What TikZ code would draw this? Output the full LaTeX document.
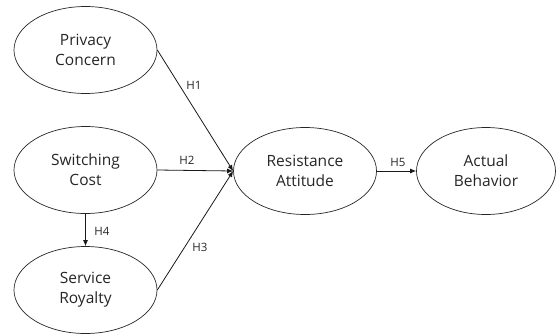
\documentclass[tikz,border=0pt]{standalone}
\usepackage{fontspec}
\setmainfont{Open Sans}
\usetikzlibrary{shapes.geometric,arrows.meta}
\begin{document}
\begin{tikzpicture}[x=1pt,y=-1pt,
  latent/.style={draw=black!85,line width=0.7pt,ellipse,minimum width=143pt,minimum height=87pt,inner sep=0pt,align=center,font=\fontsize{15.5}{20}\selectfont,text=black!85},
  link/.style={draw=black!90,line width=0.8pt,-{Latex[length=6pt,width=5pt]}},
  hlab/.style={font=\fontsize{11.5}{13}\selectfont,text=black!85,inner sep=0pt}]
\useasboundingbox (0,0) rectangle (556,335);
\node[latent] (pc) at (85.5,50) {Privacy\\Concern};
\node[latent] (sc) at (85.5,170) {Switching\\Cost};
\node[latent] (sr) at (85.5,290) {Service\\Royalty};
\node[latent] (ra) at (305,171) {Resistance\\Attitude};
\node[latent,minimum width=139pt] (ab) at (486,171) {Actual\\Behavior};
\draw[link] (pc.east) -- (ra.west);
\draw[link] (sc.east) -- (ra.west);
\draw[link] (sr.east) -- (ra.west);
\draw[link] (sc.south) -- (sr.north);
\draw[link] (ra.east) -- (ab.west);
\node[hlab] (h1) at (194,85) {H1};
\node[hlab] (h2) at (187,160) {H2};
\node[hlab] (h3) at (200,247) {H3};
\node[hlab] (h4) at (102,231) {H4};
\node[hlab] (h5) at (398,162) {H5};
\end{tikzpicture}
\end{document}
